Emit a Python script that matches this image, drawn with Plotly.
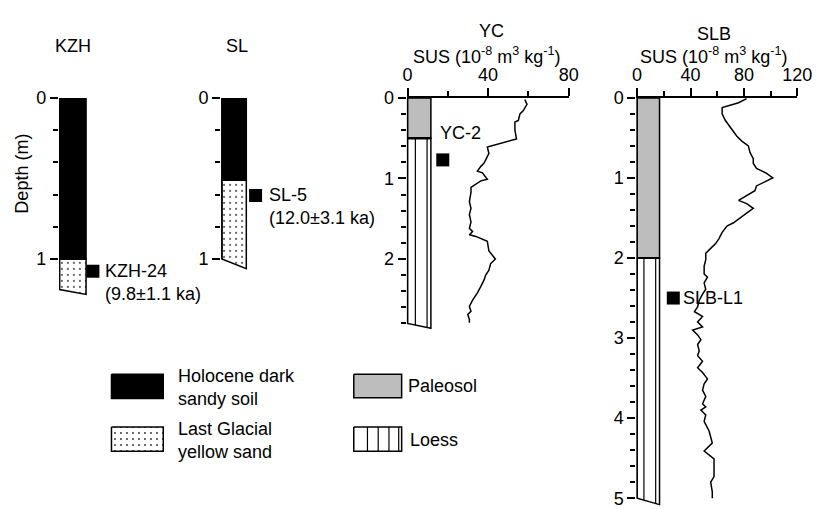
import plotly.graph_objects as go

W, H = 827, 509
FONT = "Liberation Sans, Arial, sans-serif"
FS = 18

# ------------------------- data -------------------------
SECTION_NAMES = ["KZH", "SL", "YC", "SLB"]

KZH_UNITS = ["holocene", "glacial"]
KZH_TOPS = [0.0, 1.0]
KZH_BASES = [1.0, 1.19]
KZH_BASE_RIGHT = 1.22

SL_UNITS = ["holocene", "glacial"]
SL_TOPS = [0.0, 0.51]
SL_BASES = [0.51, 1.0]
SL_BASE_RIGHT = 1.06

YC_UNITS = ["paleosol", "loess"]
YC_TOPS = [0.0, 0.5]
YC_BASES = [0.5, 2.8]
YC_BASE_RIGHT = 2.86

SLB_UNITS = ["paleosol", "loess"]
SLB_TOPS = [0.0, 2.0]
SLB_BASES = [2.0, 5.0]
SLB_BASE_RIGHT = 5.08

YC_DEPTH = [0.02, 0.08, 0.16, 0.20, 0.28, 0.30, 0.40, 0.51, 0.61, 0.69,
            0.77, 0.81, 0.85, 0.91, 0.93, 1.01, 1.03, 1.07, 1.11, 1.17,
            1.29, 1.37, 1.45, 1.54, 1.62, 1.66, 1.70, 1.72, 1.78, 1.90,
            2.00, 2.06, 2.14, 2.20, 2.26, 2.34, 2.42, 2.51, 2.59, 2.65,
            2.69, 2.75, 2.79]
YC_SUS = [58.2, 59.3, 57.4, 55.8, 55.0, 53.3, 53.3, 54.1, 39.6, 40.4,
          38.8, 38.0, 36.4, 34.7, 37.2, 39.6, 36.4, 33.9, 31.5, 31.5,
          30.7, 31.5, 30.7, 31.5, 30.7, 32.3, 30.7, 33.9, 39.6, 40.4,
          43.6, 41.2, 40.4, 38.8, 38.0, 36.4, 34.7, 32.3, 30.7, 31.5,
          29.9, 30.7, 30.7]

SLB_DEPTH = [0.01, 0.06, 0.12, 0.20, 0.28, 0.34, 0.40, 0.48, 0.54, 0.60,
             0.68, 0.76, 0.82, 0.88, 0.94, 1.00, 1.04, 1.10, 1.16, 1.22,
             1.28, 1.32, 1.38, 1.44, 1.52, 1.56, 1.60, 1.68, 1.76, 1.82,
             1.88, 1.94, 2.02, 2.10, 2.20, 2.24, 2.31, 2.39, 2.45, 2.53,
             2.61, 2.67, 2.73, 2.80, 2.86, 2.90, 2.96, 3.02, 3.08, 3.16,
             3.22, 3.29, 3.37, 3.43, 3.51, 3.57, 3.65, 3.73, 3.82, 3.86,
             3.90, 3.96, 4.04, 4.16, 4.31, 4.41, 4.51, 4.73, 4.80, 4.92,
             5.00]
SLB_SUS = [82, 76, 63.7, 63.7, 66, 68.6, 71, 74.7, 78.4, 83.3,
           84.5, 87, 87, 89.4, 96.7, 101.6, 96.7, 89.4, 88.2, 82,
           76, 82, 87, 82, 76, 72.2, 67.3, 63.7, 61.2, 58.8,
           55.1, 51.4, 51.4, 50.2, 50.2, 52.7, 50.2, 51.4, 49.0, 46.5,
           45.3, 42.9, 49, 45.3, 49, 41.6, 45.3, 47.8, 45.3, 46.5,
           45.3, 49, 45.3, 49, 52.7, 50.2, 49, 51.4, 49, 51.4,
           47.8, 51.4, 50.2, 53.9, 56.3, 50.2, 57.6, 57.6, 55.1, 56.3,
           56.3]

SAMPLE_NAMES = ["KZH-24", "SL-5", "YC-2", "SLB-L1"]
SAMPLE_AGES = ["9.8±1.1 ka", "12.0±3.1 ka", "", ""]
SAMPLE_DEPTHS = [1.076, 0.606, 0.77, 2.5]

YC_SUS_TICKS = [0, 40, 80]
SLB_SUS_TICKS = [0, 40, 80, 120]

LEGEND_KEYS = ["holocene", "glacial", "paleosol", "loess"]
LEGEND_LABELS = ["Holocene dark<br>sandy soil", "Last Glacial<br>yellow sand",
                 "Paleosol", "Loess"]

# ------------------------- layout / style -------------------------
STYLE = {
    "holocene": dict(fillcolor="black"),
    "glacial": dict(fillcolor="white",
                    fillpattern=dict(shape=".", size=6, solidity=0.08,
                                     fgcolor="#333333", bgcolor="white",
                                     fillmode="replace")),
    "paleosol": dict(fillcolor="#bdbdbd"),
    "loess": dict(fillcolor="white"),
}

PANELS = [
    dict(name="KZH", units=KZH_UNITS, tops=KZH_TOPS, bases=KZH_BASES, base_r=KZH_BASE_RIGHT,
         axis_px=57, top_px=90, ppm=165.0, depth_max=1.26, ppx=1.0, xmax=60,
         col_w=27, axis_end=1.0, inner=[], sample_x=34, curve=None, sus_ticks=None),
    dict(name="SL", units=SL_UNITS, tops=SL_TOPS, bases=SL_BASES, base_r=SL_BASE_RIGHT,
         axis_px=223, top_px=90, ppm=165.0, depth_max=1.26, ppx=1.0, xmax=60,
         col_w=25, axis_end=1.0, inner=[], sample_x=34.5, curve=None, sus_ticks=None),
    dict(name="YC", units=YC_UNITS, tops=YC_TOPS, bases=YC_BASES, base_r=YC_BASE_RIGHT,
         axis_px=413, top_px=90, ppm=82.5, depth_max=2.87, ppx=2.0625, xmax=80,
         col_w=11.6, axis_end=2.8, inner=[3.9, 9.7], sample_x=17.5,
         curve=(YC_DEPTH, YC_SUS), sus_ticks=YC_SUS_TICKS),
    dict(name="SLB", units=SLB_UNITS, tops=SLB_TOPS, bases=SLB_BASES, base_r=SLB_BASE_RIGHT,
         axis_px=648, top_px=90, ppm=82.0, depth_max=5.1, ppx=1.3667, xmax=120,
         col_w=16.8, axis_end=5.0, inner=[5.1, 13.9], sample_x=27.1,
         curve=(SLB_DEPTH, SLB_SUS), sus_ticks=SLB_SUS_TICKS),
]

# label offsets (px) relative to sample marker
LABEL_OFFSETS = [dict(xanchor="left", xshift=10, yshift=-11.5),
                 dict(xanchor="left", xshift=11, yshift=-11),
                 dict(xanchor="center", xshift=18, yshift=26.5),
                 dict(xanchor="left", xshift=8, yshift=0)]

TITLES = [("KZH", 71, 37), ("SL", 238, 37), ("YC", 499, 21), ("SLB", 727, 25)]
SUS_TITLE = "SUS (10<sup>-8</sup> m<sup>3</sup> kg<sup>-1</sup>)"
SUS_TITLE_POS = [(494, 47), (726, 47)]

LEGEND_BOXES = {  # x0, y0, x1, y1, text_x, text_y  (px)
    "holocene": (110, 373, 163, 398, 176, 387),
    "glacial": (110, 427, 163, 452, 176, 441),
    "paleosol": (358, 373, 407, 397, 411, 385),
    "loess": (358, 427, 407, 452, 413, 440),
}
LEGEND_LOESS_LINES = [372, 383, 394, 404]

LW = 1.5

fig = go.Figure()
annotations = []
layout = dict(width=W, height=H, margin=dict(l=0, r=0, t=0, b=0),
              paper_bgcolor="white", plot_bgcolor="rgba(0,0,0,0)",
              showlegend=False, font=dict(family=FONT, size=FS, color="black"))


def pap_x(px):
    return px / W


def pap_y(py):
    return 1 - py / H


for i, p in enumerate(PANELS):
    n = i + 1
    xa, ya = ("x" if n == 1 else f"x{n}"), ("y" if n == 1 else f"y{n}")
    xkey, ykey = ("xaxis" if n == 1 else f"xaxis{n}"), ("yaxis" if n == 1 else f"yaxis{n}")
    xmin = -0.8 / p["ppx"]
    left_px = p["axis_px"] + xmin * p["ppx"]
    right_px = p["axis_px"] + p["xmax"] * p["ppx"]
    top_px = p["top_px"]
    bot_px = top_px + p["depth_max"] * p["ppm"]

    # axes
    xaxis = dict(domain=[pap_x(left_px), pap_x(right_px)], range=[xmin, p["xmax"]],
                 anchor=ya, showgrid=False, zeroline=False, fixedrange=True)
    if p["sus_ticks"] is None:
        xaxis.update(visible=False)
    else:
        st = p["sus_ticks"]
        mids = [(a + b) / 2 for a, b in zip(st[:-1], st[1:])]
        xaxis.update(side="top", showline=True, linewidth=LW, linecolor="black",
                     ticks="outside", ticklen=8, tickwidth=LW, tickcolor="black",
                     tickmode="array", tickvals=st, ticktext=[str(v) for v in st],
                     ticklabeloverflow="allow",
                     tickfont=dict(size=FS, family=FONT, color="black"),
                     minor=dict(tickmode="array", tickvals=mids, ticks="outside",
                                ticklen=5, tickwidth=LW, tickcolor="black"))
    layout[xkey] = xaxis

    majors = list(range(int(p["axis_end"]) + 1))
    minors = [round(k * 0.2, 1) for k in range(int(round(p["axis_end"] / 0.2)) + 1) if k % 5 != 0]
    layout[ykey] = dict(domain=[pap_y(bot_px), pap_y(top_px)], range=[p["depth_max"], 0],
                        anchor=xa, showgrid=False, zeroline=False, showline=False,
                        ticks="outside", ticklen=8, tickwidth=LW, tickcolor="black",
                        tickmode="array", tickvals=majors, ticktext=[str(v) for v in majors],
                        ticklabeloverflow="allow",
                        tickfont=dict(size=FS, family=FONT, color="black"),
                        minor=dict(tickmode="array", tickvals=minors, ticks="outside",
                                   ticklen=5, tickwidth=LW, tickcolor="black"),
                        fixedrange=True)

    w = p["col_w"]
    nunits = len(p["units"])
    # column units
    for k, (u, t, b) in enumerate(zip(p["units"], p["tops"], p["bases"])):
        br = p["base_r"] if k == nunits - 1 else b
        fig.add_trace(go.Scatter(x=[0, w, w, 0, 0], y=[t, t, br, b, t], mode="lines",
                                 fill="toself", line=dict(color="black", width=LW),
                                 xaxis=xa, yaxis=ya, hoverinfo="skip", **STYLE[u]))
        if u == "loess":
            xs, ys = [], []
            for xi in p["inner"]:
                yb = b + (br - b) * xi / w
                xs += [xi, xi, None]
                ys += [t, yb, None]
            fig.add_trace(go.Scatter(x=xs, y=ys, mode="lines",
                                     line=dict(color="black", width=1.2),
                                     xaxis=xa, yaxis=ya, hoverinfo="skip"))
    # boundary lines between units
    for k in range(1, nunits):
        fig.add_trace(go.Scatter(x=[0, w], y=[p["tops"][k]] * 2, mode="lines",
                                 line=dict(color="black", width=2.5 if p["name"] == "YC" else 2),
                                 xaxis=xa, yaxis=ya, hoverinfo="skip"))
    # vertical axis line
    fig.add_trace(go.Scatter(x=[0, 0], y=[0, p["axis_end"]], mode="lines",
                             line=dict(color="black", width=LW),
                             xaxis=xa, yaxis=ya, hoverinfo="skip"))
    # SUS curve
    if p["curve"] is not None:
        d, s = p["curve"]
        fig.add_trace(go.Scatter(x=s, y=d, mode="lines",
                                 line=dict(color="black", width=1.5),
                                 xaxis=xa, yaxis=ya, hoverinfo="skip"))
    # sample marker
    fig.add_trace(go.Scatter(x=[p["sample_x"]], y=[SAMPLE_DEPTHS[i]], mode="markers",
                             marker=dict(symbol="square", size=13, color="black",
                                         line=dict(width=0)),
                             cliponaxis=False, xaxis=xa, yaxis=ya, hoverinfo="skip"))
    label = SAMPLE_NAMES[i] + (f"<br>({SAMPLE_AGES[i]})" if SAMPLE_AGES[i] else "")
    off = LABEL_OFFSETS[i]
    annotations.append(dict(x=p["sample_x"], y=SAMPLE_DEPTHS[i], xref=xa, yref=ya,
                            text=label, showarrow=False, align="left",
                            xanchor=off["xanchor"], yanchor="middle",
                            xshift=off["xshift"], yshift=off["yshift"],
                            font=dict(size=FS, family=FONT, color="black")))

# titles
for t, x, y in TITLES:
    annotations.append(dict(x=pap_x(x), y=pap_y(y), xref="paper", yref="paper", text=t,
                            showarrow=False, xanchor="center", yanchor="middle",
                            font=dict(size=FS, family=FONT, color="black")))
for x, y in SUS_TITLE_POS:
    annotations.append(dict(x=pap_x(x), y=pap_y(y), xref="paper", yref="paper", text=SUS_TITLE,
                            showarrow=False, xanchor="center", yanchor="middle",
                            font=dict(size=FS, family=FONT, color="black")))
annotations.append(dict(x=pap_x(18), y=pap_y(168), xref="paper", yref="paper",
                        text="Depth (m)", textangle=-90, showarrow=False,
                        xanchor="center", yanchor="middle",
                        font=dict(size=FS, family=FONT, color="black")))

# legend drawn on an overlay axis in pixel units
layout["xaxis5"] = dict(domain=[0, 1], range=[0, W], visible=False, anchor="y5", fixedrange=True)
layout["yaxis5"] = dict(domain=[0, 1], range=[H, 0], visible=False, anchor="x5", fixedrange=True)
for key, lab in zip(LEGEND_KEYS, LEGEND_LABELS):
    x0, y0, x1, y1, tx, ty = LEGEND_BOXES[key]
    fig.add_trace(go.Scatter(x=[x0, x1, x1, x0, x0], y=[y0, y0, y1, y1, y0], mode="lines",
                             fill="toself", line=dict(color="black", width=LW),
                             xaxis="x5", yaxis="y5", hoverinfo="skip", **STYLE[key]))
    if key == "loess":
        xs, ys = [], []
        for lx in LEGEND_LOESS_LINES:
            xs += [lx, lx, None]
            ys += [y0, y1, None]
        fig.add_trace(go.Scatter(x=xs, y=ys, mode="lines", line=dict(color="black", width=1.2),
                                 xaxis="x5", yaxis="y5", hoverinfo="skip"))
    annotations.append(dict(x=tx, y=ty, xref="x5", yref="y5", text=lab, showarrow=False,
                            align="left", xanchor="left", yanchor="middle",
                            font=dict(size=FS, family=FONT, color="black")))

layout["annotations"] = annotations
fig.update_layout(**layout)
fig.write_html("out.html")
